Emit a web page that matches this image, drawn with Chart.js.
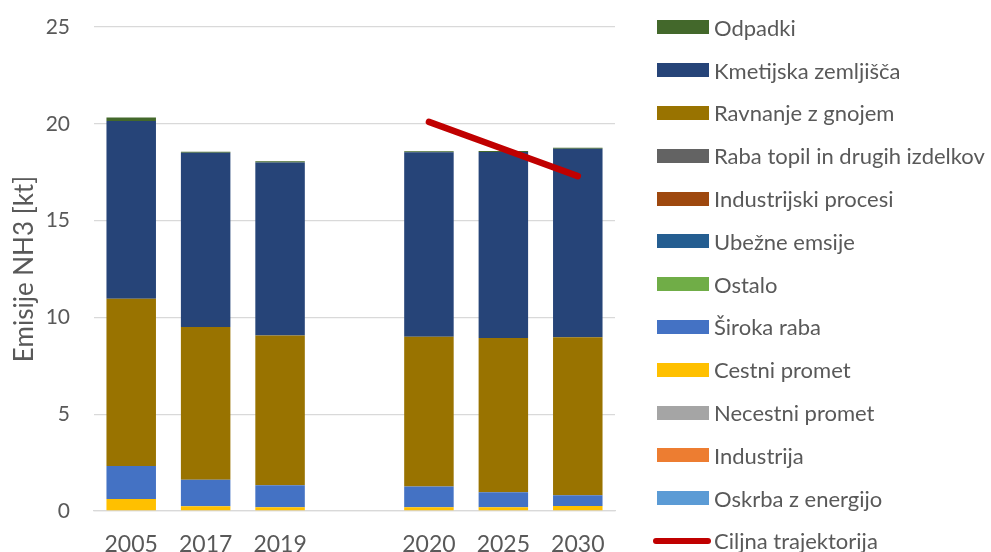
<!DOCTYPE html>
<html>
<head>
<meta charset="utf-8">
<script src="https://cdn.jsdelivr.net/npm/chart.js@4"></script>
<style>
  body { margin: 0; background: #fff; }
  #wrap { position: relative; width: 991px; height: 552px; }
  #legend { position: absolute; left: 653px; top: 6px; font-family: Lato, sans-serif; font-size: 22px; color: #595959; }
  .row { height: 42.8px; display: flex; align-items: center; white-space: nowrap; }
  .box { width: 52px; height: 14px; margin-left: 4px; margin-right: 5px; }
  .ln { width: 58px; height: 6px; border-radius: 3px; margin-right: 3px; }
</style>
</head>
<body>
<div id="wrap">
  <canvas id="chart" width="991" height="552"></canvas>
  <div id="legend"></div>
</div>
<script>
// categories (empty slot = gap between history and projections)
const years = ['2005', '2017', '2019', '', '2020', '2025', '2030'];

// emissions per sector, kt NH3 (stack from bottom to top)
const oskrba      = [0, 0, 0, null, 0, 0, 0];
const industrija  = [0, 0, 0, null, 0, 0, 0];
const necestni    = [0, 0, 0, null, 0, 0, 0];
const cestni      = [0.62, 0.24, 0.20, null, 0.19, 0.19, 0.26];
const sirokaRaba  = [1.70, 1.38, 1.13, null, 1.07, 0.78, 0.55];
const ostalo      = [0, 0, 0, null, 0, 0, 0];
const ubezne      = [0, 0, 0, null, 0, 0, 0];
const indProcesi  = [0, 0, 0, null, 0, 0, 0];
const rabaTopil   = [0, 0, 0, null, 0, 0, 0];
const ravnanje    = [8.64, 7.89, 7.73, null, 7.74, 7.96, 8.17];
const kmetijska   = [9.19, 8.99, 8.94, null, 9.53, 9.61, 9.73];
const odpadki     = [0.18, 0.06, 0.06, null, 0.05, 0.05, 0.05];

// target trajectory
const ciljna = [null, null, null, null, 20.1, 18.7, 17.3];

const yTicks = [0, 5, 10, 15, 20, 25];

const grey = '#595959';
const fam = 'Lato, sans-serif';

function bar(label, data, color) {
    return { type: 'bar', label: label, data: data, backgroundColor: color, stack: 'emis', order: 1 };
}

const datasets = [
    bar('Oskrba z energijo', oskrba, '#5b9bd5'),
    bar('Industrija', industrija, '#ed7d31'),
    bar('Necestni promet', necestni, '#a5a5a5'),
    bar('Cestni promet', cestni, '#ffc000'),
    bar('Široka raba', sirokaRaba, '#4472c4'),
    bar('Ostalo', ostalo, '#70ad47'),
    bar('Ubežne emsije', ubezne, '#255e91'),
    bar('Industrijski procesi', indProcesi, '#9e480e'),
    bar('Raba topil in drugih izdelkov', rabaTopil, '#636363'),
    bar('Ravnanje z gnojem', ravnanje, '#997300'),
    bar('Kmetijska zemljišča', kmetijska, '#264478'),
    bar('Odpadki', odpadki, '#43682b'),
    {
        type: 'line', label: 'Ciljna trajektorija', data: ciljna, stack: 'target', order: 0,
        borderColor: '#c00000', backgroundColor: '#c00000', borderWidth: 6.5,
        borderCapStyle: 'round', pointRadius: 0, spanGaps: false
    }
];

const chart = new Chart(document.getElementById('chart'), {
    data: { labels: years, datasets: datasets },
    options: {
        responsive: false,
        devicePixelRatio: 1,
        animation: false,
        categoryPercentage: 1,
        barPercentage: 0.665,
        layout: { padding: { left: 0, top: 27, right: 376, bottom: 0 } },
        plugins: { legend: { display: false }, tooltip: { enabled: false } },
        scales: {
            x: {
                stacked: true,
                grid: { display: false },
                border: { display: true, color: '#d9d9d9', width: 1.3 },
                ticks: { color: grey, font: { family: fam, size: 23 }, padding: 12, maxRotation: 0 },
                afterFit: function (scale) {
                    scale.height = 41;
                    scale.paddingLeft = 0;
                    scale.paddingRight = 0;
                }
            },
            y: {
                stacked: true,
                min: 0, max: 25,
                afterBuildTicks: function (scale) { scale.ticks = yTicks.map(v => ({ value: v })); },
                grid: { color: '#d9d9d9', lineWidth: 1.3, drawTicks: false },
                border: { display: false },
                ticks: { color: grey, font: { family: fam, size: 21 }, padding: 24 },
                title: { display: true, text: 'Emisije NH3 [kt]', color: grey, font: { family: fam, size: 26 }, padding: { top: 9, bottom: 0 } },
                afterFit: function (scale) {
                    scale.width = 94;
                    scale.paddingTop = 0;
                    scale.paddingBottom = 0;
                }
            }
        }
    }
});

// legend in Excel order: stacked series top-down, then the line
const legend = document.getElementById('legend');
const items = datasets.filter(d => d.type === 'bar').reverse().concat(datasets.filter(d => d.type === 'line'));
items.forEach(function (d) {
    const row = document.createElement('div');
    row.className = 'row';
    const sw = document.createElement('span');
    sw.className = d.type === 'line' ? 'ln' : 'box';
    sw.style.background = d.type === 'line' ? d.borderColor : d.backgroundColor;
    row.appendChild(sw);
    row.appendChild(document.createTextNode(d.label));
    legend.appendChild(row);
});
</script>
</body>
</html>
